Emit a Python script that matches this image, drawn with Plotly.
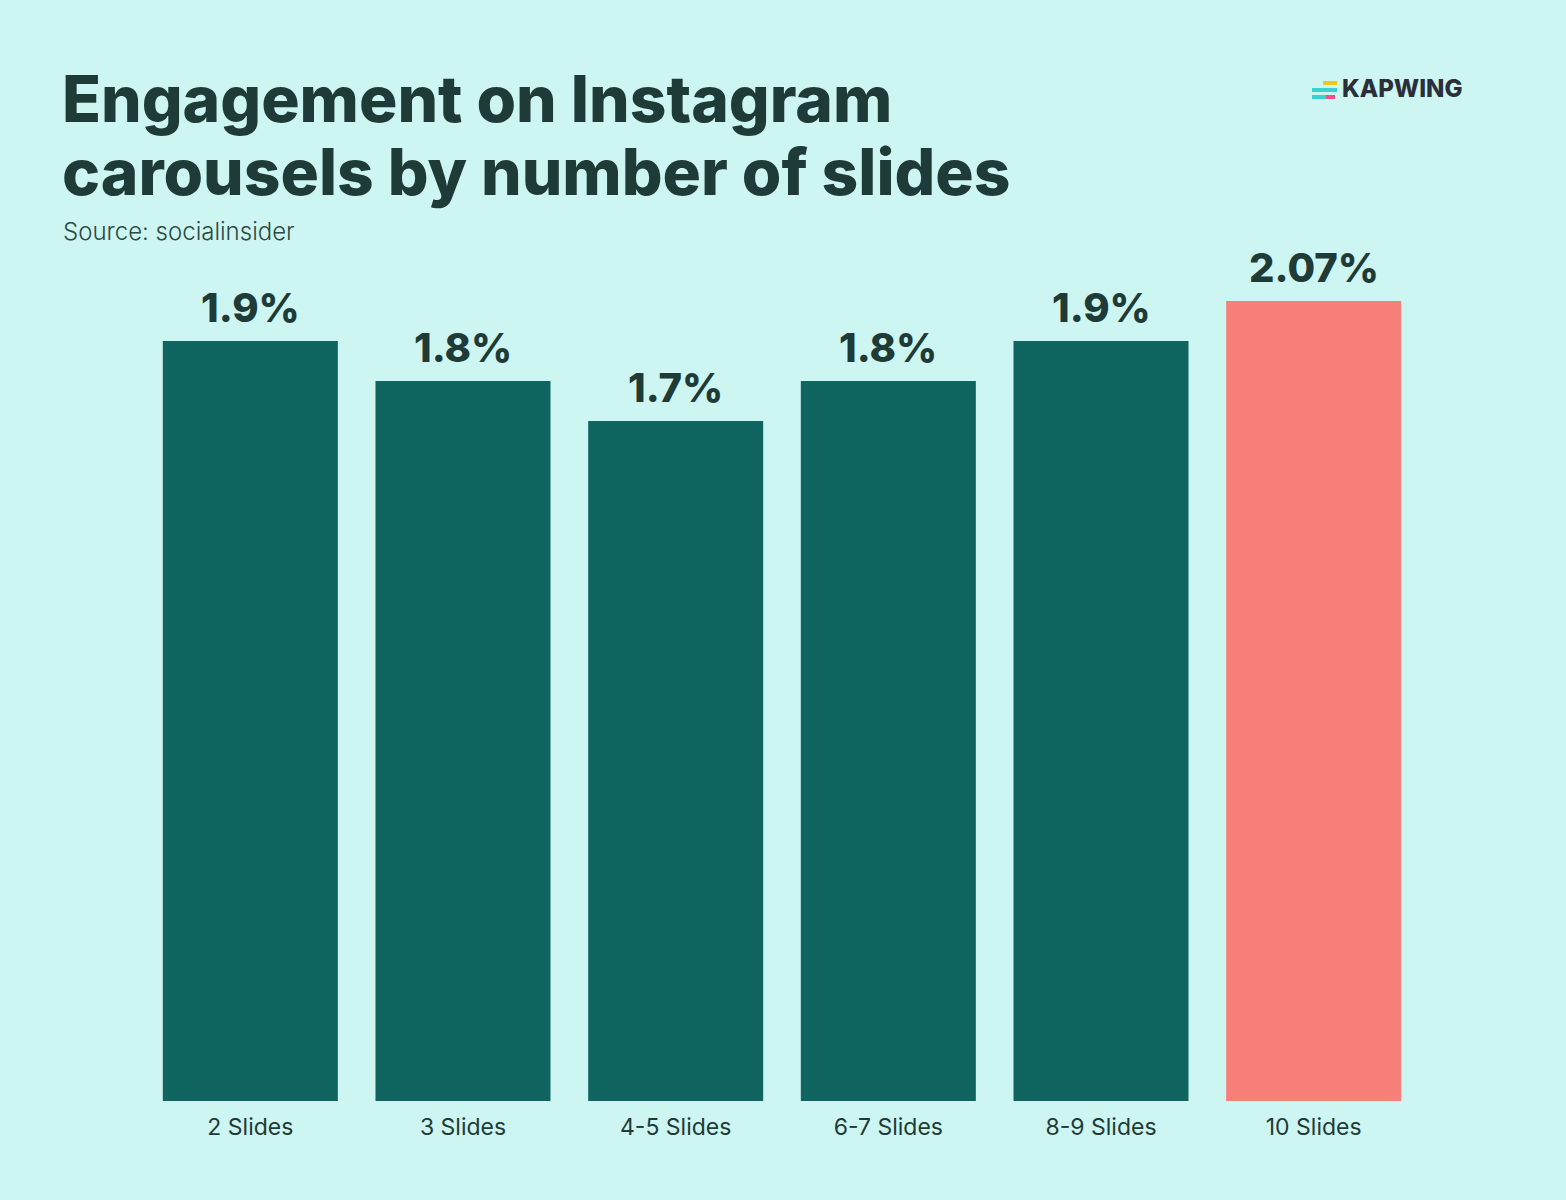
import plotly.graph_objects as go

categories = ["2 Slides", "3 Slides", "4-5 Slides", "6-7 Slides", "8-9 Slides", "10 Slides"]
# bar heights as drawn in the picture (the 10-slide bar is drawn at about 2.0)
bar_heights = [1.9, 1.8, 1.7, 1.8, 1.9, 2.0]
labels = ["1.9%", "1.8%", "1.7%", "1.8%", "1.9%", "2.07%"]
highlight = "10 Slides"

W, H = 1566, 1200
L, R, T, B = 144, 146, 181, 99
PW, PH = W - L - R, H - T - B

def px(x):
    return (x - L) / PW

def py(y):
    return (H - B - y) / PH

DARK = "#1f3b37"
BAR = "#116560"
HI = "#f8807b"
BG = "#cdf5f1"

colors = [HI if c == highlight else BAR for c in categories]

fig = go.Figure(go.Bar(
    x=categories, y=bar_heights, marker=dict(color=colors, line=dict(width=0)),
    cliponaxis=False, hoverinfo="skip",
))

fig.update_layout(
    width=W, height=H,
    margin=dict(l=L, r=R, t=T, b=B),
    paper_bgcolor=BG, plot_bgcolor=BG,
    bargap=0.177, showlegend=False,
    xaxis=dict(showgrid=False, showline=False, zeroline=False, ticks="",
               tickfont=dict(family="Inter", size=23, color=DARK), ticklabelstandoff=10),
    yaxis=dict(range=[0, 2.3], visible=False),
)

ann = [
    dict(text="Engagement on Instagram", x=px(60), y=py(99), xanchor="left", yanchor="middle",
         font=dict(family="Inter", size=64, color=DARK, weight=800)),
    dict(text="carousels by number of slides", x=px(60), y=py(172), xanchor="left", yanchor="middle",
         font=dict(family="Inter", size=64, color=DARK, weight=800)),
    dict(text="Source: socialinsider", x=px(61), y=py(232), xanchor="left", yanchor="middle",
         font=dict(family="Inter", size=24, color="#2a4a45", weight=300)),
    dict(text="KAPWING", x=px(1340), y=py(89), xanchor="left", yanchor="middle",
         font=dict(family="Inter", size=24, color="#2b2f3a", weight=800)),
]
for a in ann:
    a.update(xref="paper", yref="paper", showarrow=False)
for c, v, t in zip(categories, bar_heights, labels):
    ann.append(dict(x=c, y=v, text=t, xref="x", yref="y", showarrow=False,
                    yanchor="bottom", yshift=7,
                    font=dict(family="Inter", size=40, color=DARK, weight=800)))
fig.update_layout(annotations=ann)

shapes = [
    dict(x0=px(1323), x1=px(1337), y0=py(81), y1=py(85), fillcolor="#f5c518"),
    dict(x0=px(1312), x1=px(1337), y0=py(88), y1=py(92), fillcolor="#3ccfd6"),
    dict(x0=px(1312), x1=px(1326), y0=py(95), y1=py(99), fillcolor="#3ccfd6"),
    dict(x0=px(1326), x1=px(1335), y0=py(95), y1=py(99), fillcolor="#f0508a"),
]
for s in shapes:
    s.update(type="rect", xref="paper", yref="paper", line=dict(width=0), layer="above")
fig.update_layout(shapes=shapes)

fig.write_html("out.html", config={"displayModeBar": False},
               post_script="document.body.style.margin='0';")
